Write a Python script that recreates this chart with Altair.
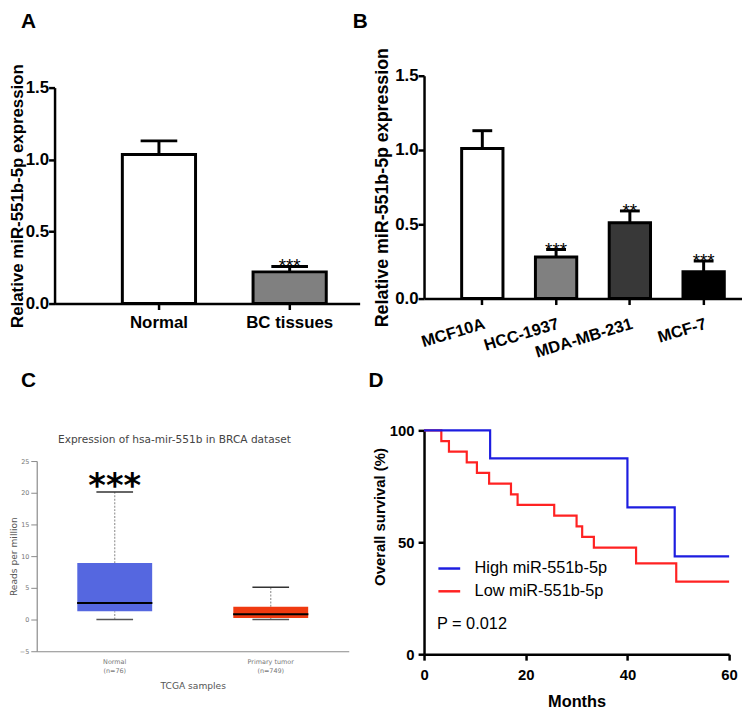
import altair as alt
import pandas as pd

FONT = "Liberation Sans"
CFONT = "DejaVu Sans"

# ---------------- Panel A ----------------
a_groups = ["Normal", "BC tissues"]
a_means = [1.035, 0.22]
a_sd = [0.095, 0.037]
a_fill = ["#ffffff", "#808080"]
a_sig = ["", "***"]

# ---------------- Panel B ----------------
b_groups = ["MCF10A", "HCC-1937", "MDA-MB-231", "MCF-7"]
b_means = [1.01, 0.28, 0.51, 0.18]
b_sd = [0.12, 0.05, 0.08, 0.073]
b_fill = ["#ffffff", "#808080", "#383838", "#000000"]
b_sig = ["", "***", "**", "***"]

# ---------------- Panel C ----------------
c_title = "Expression of hsa-mir-551b in BRCA dataset"
c_groups = ["Normal", "Primary tumor"]
c_n = ["(n=76)", "(n=749)"]
c_min = [0.0, 0.0]
c_q1 = [1.3, 0.25]
c_median = [2.6, 0.85]
c_q3 = [8.9, 2.0]
c_max = [20.1, 5.1]
c_fill = ["#5567e0", "#f03a10"]
c_sig = ["***", ""]
c_ticks = [-5, 0, 5, 10, 15, 20, 25]

# ---------------- Panel D ----------------
d_groups = ["High miR-551b-5p", "Low miR-551b-5p"]
d_colors = ["#1d1de0", "#ff2222"]
d_high_t = [0, 13, 40, 49.3, 60]
d_high_s = [100, 87.5, 65.6, 43.7, 43.7]
d_low_t = [0, 3.4, 4.9, 8.4, 10.4, 12.8, 17.1, 18.4, 25.6, 30.0, 31.1, 33.4, 41.7, 49.6, 60]
d_low_s = [100, 95.2, 90.5, 85.7, 81.0, 76.2, 71.4, 66.7, 61.9, 57.1, 52.4, 47.6, 40.6, 32.4, 32.4]
d_pvalue = "P = 0.012"

panel_letters = ["A", "B", "C", "D"]


def letter_layer(t, x, y):
    return alt.Chart(pd.DataFrame({"t": [t]})).mark_text(
        font=FONT, fontSize=21, fontWeight="bold", color="black", align="left",
        baseline="alphabetic").encode(x=alt.value(x), y=alt.value(y), text="t:N")


def bar_axis_y(title, offset, title_size, title_pad):
    return alt.Axis(values=[0, 0.5, 1.0, 1.5], format=".1f", title=title, offset=offset,
                    grid=False, domainColor="black", domainWidth=2.5, tickColor="black",
                    tickWidth=2.5, tickSize=6, labelFont=FONT, labelFontSize=17,
                    labelFontWeight="bold", labelColor="black", labelPadding=0,
                    labelOverlap=False, titleFont=FONT, titleFontSize=title_size,
                    titleFontWeight="bold", titleColor="black", titlePadding=title_pad)


# ---------- A ----------
dfA = pd.DataFrame({"group": a_groups, "mean": a_means, "sd": a_sd, "col": a_fill, "sig": a_sig})
xA = alt.X("group:N", sort=a_groups,
           scale=alt.Scale(domain=a_groups, range=[18, 326], paddingInner=0.44,
                           paddingOuter=0.387, align=0.67),
           axis=alt.Axis(title=None, labelAngle=0, labelFont=FONT, labelFontSize=17,
                         labelFontWeight="bold", labelColor="black", labelPadding=5,
                         domainColor="black", domainWidth=2.5, tickColor="black",
                         tickWidth=2.5, tickSize=6))
yA = alt.Y("mean:Q", scale=alt.Scale(domain=[0, 1.5], range=[230, 12], nice=False),
           axis=bar_axis_y("Relative miR-551b-5p expression", -18, 17, -1))
baseA = alt.Chart(dfA).transform_calculate(upper="datum.mean + datum.sd")
A = alt.layer(
    baseA.mark_rule(color="black", strokeWidth=3, opacity=1).encode(x=xA, y=yA, y2="upper:Q"),
    baseA.mark_bar(stroke="black", strokeWidth=3, opacity=1).encode(
        x=xA, y=yA, fill=alt.Fill("col:N", scale=None)),
    baseA.mark_tick(color="black", thickness=3, size=37, opacity=1).encode(
        x=xA, y=alt.Y("upper:Q")),
    baseA.mark_text(font=FONT, fontSize=19, baseline="alphabetic", dy=5, color="black").encode(
        x=xA, y=alt.Y("upper:Q"), text="sig:N"),
    letter_layer(panel_letters[0], -16, -48),
).properties(width=326, height=230)

# ---------- B ----------
dfB = pd.DataFrame({"group": b_groups, "mean": b_means, "sd": b_sd, "col": b_fill, "sig": b_sig})
xB = alt.X("group:N", sort=b_groups,
           scale=alt.Scale(domain=b_groups, paddingInner=0.44, paddingOuter=0.375, align=0.68),
           axis=alt.Axis(title=None, labelAngle=-17, labelAlign="right", labelBaseline="top",
                         labelFont=FONT, labelFontSize=16.5, labelFontWeight="bold",
                         labelColor="black", labelPadding=11, domainColor="black",
                         domainWidth=2.5, tickColor="black", tickWidth=2.5, tickSize=6))
yB = alt.Y("mean:Q", scale=alt.Scale(domain=[0, 1.5], nice=False),
           axis=bar_axis_y("Relative miR-551b-5p expression", 0, 18, 3))
baseB = alt.Chart(dfB).transform_calculate(upper="datum.mean + datum.sd")
B = alt.layer(
    baseB.mark_rule(color="black", strokeWidth=3, opacity=1).encode(x=xB, y=yB, y2="upper:Q"),
    baseB.mark_bar(stroke="black", strokeWidth=3, opacity=1).encode(
        x=xB, y=yB, fill=alt.Fill("col:N", scale=None)),
    baseB.mark_tick(color="black", thickness=3, size=20, opacity=1).encode(
        x=xB, y=alt.Y("upper:Q")),
    baseB.mark_text(font=FONT, fontSize=19, baseline="alphabetic", dy=6, color="black").encode(
        x=xB, y=alt.Y("upper:Q"), text="sig:N"),
    letter_layer(panel_letters[1], -72, -48),
).properties(width=321, height=225)

# ---------- C ----------
dfC = pd.DataFrame({"group": c_groups, "n": c_n, "min": c_min, "q1": c_q1, "median": c_median,
                    "q3": c_q3, "max": c_max, "col": c_fill, "sig": c_sig})
label_expr = "datum.label"
for g, n in zip(reversed(c_groups), reversed(c_n)):
    label_expr = f"datum.label == '{g}' ? ['{g}', '{n}'] : ({label_expr})"
xC = alt.X("group:N", sort=c_groups,
           scale=alt.Scale(domain=c_groups, paddingInner=0.52, paddingOuter=0.26),
           axis=alt.Axis(title="TCGA samples", labelExpr=label_expr, ticks=False, tickSize=0,
                         labelAngle=0, domainColor="#8a8a8a", domainWidth=1.2, labelFont=CFONT,
                         labelFontSize=6.5, labelColor="#777777", labelPadding=7,
                         labelLineHeight=9, titleFont=CFONT, titleFontSize=9.2,
                         titleFontWeight="normal", titleColor="#555555", titlePadding=8))
yC_scale = alt.Scale(domain=[-5, 25], range=[223, 31], nice=False, zero=False)
yC_axis = alt.Axis(values=c_ticks, title="Reads per million", grid=False,
                   domainColor="#8a8a8a", domainWidth=1.2, tickColor="#8a8a8a",
                   tickWidth=1, tickSize=6, labelFont=CFONT, labelFontSize=6.5,
                   labelColor="#777777", labelPadding=2, labelOverlap=False,
                   titleFont=CFONT, titleFontSize=9.2, titleFontWeight="normal",
                   titleColor="#555555", titlePadding=1)
baseC = alt.Chart(dfC)
C = alt.layer(
    baseC.mark_rule(color="#999999", strokeWidth=1.2, strokeDash=[2, 1.5]).encode(
        x=xC, y=alt.Y("q3:Q", scale=yC_scale, axis=yC_axis), y2="max:Q"),
    baseC.mark_rule(color="#999999", strokeWidth=1.2, strokeDash=[2, 1.5]).encode(
        x=xC, y=alt.Y("min:Q", scale=yC_scale, axis=yC_axis), y2="q1:Q"),
    baseC.mark_bar(opacity=1).encode(
        x=xC, y=alt.Y("q1:Q", scale=yC_scale, axis=yC_axis), y2="q3:Q",
        fill=alt.Fill("col:N", scale=None)),
    baseC.mark_tick(color="black", thickness=2, size=76, opacity=1).encode(
        x=xC, y=alt.Y("median:Q", scale=yC_scale, axis=yC_axis)),
    baseC.mark_tick(color="#333333", thickness=1.5, size=37, opacity=1).encode(
        x=xC, y=alt.Y("max:Q", scale=yC_scale, axis=yC_axis)),
    baseC.mark_tick(color="#555555", thickness=1.5, size=37, opacity=1).encode(
        x=xC, y=alt.Y("min:Q", scale=yC_scale, axis=yC_axis)),
    baseC.mark_text(font=CFONT, fontSize=34, fontWeight="bold", baseline="alphabetic", dy=5,
                    color="black").encode(
        x=xC, y=alt.Y("max:Q", scale=yC_scale, axis=yC_axis), text="sig:N"),
    alt.Chart(pd.DataFrame({"t": [c_title]})).mark_text(
        font=CFONT, fontSize=10.7, color="#444444", align="center", baseline="alphabetic").encode(
        x=alt.value(139), y=alt.value(13), text="t:N"),
    letter_layer(panel_letters[2], -16, -44),
).properties(width=315, height=223)

# ---------- D ----------
dfD_high = pd.DataFrame({"t": d_high_t, "s": d_high_s, "group": d_groups[0]})
dfD_low = pd.DataFrame({"t": d_low_t, "s": d_low_s, "group": d_groups[1]})
xD = alt.X("t:Q", scale=alt.Scale(domain=[0, 60], nice=False),
           axis=alt.Axis(values=[0, 20, 40, 60], title="Months", grid=False, labelFlush=False,
                         labelOverlap=False, domainColor="black", domainWidth=2.5,
                         tickColor="black", tickWidth=2.5, tickSize=6, labelFont=FONT,
                         labelFontSize=15, labelFontWeight="bold", labelColor="black",
                         labelPadding=8, titleFont=FONT, titleFontSize=16.5,
                         titleFontWeight="bold", titleColor="black", titlePadding=11))
yD = alt.Y("s:Q", scale=alt.Scale(domain=[0, 100], nice=False),
           axis=alt.Axis(values=[0, 50, 100], title="Overall survival (%)", grid=False,
                         labelOverlap=False, domainColor="black", domainWidth=2.5,
                         tickColor="black", tickWidth=2.5, tickSize=6, labelFont=FONT,
                         labelFontSize=15, labelFontWeight="bold", labelColor="black",
                         labelPadding=4, titleFont=FONT, titleFontSize=15,
                         titleFontWeight="bold", titleColor="black", titleX=-37, titleY=87))
colD = alt.Color("group:N", scale=alt.Scale(domain=d_groups, range=d_colors),
                 legend=alt.Legend(orient="none", legendX=13, legendY=127, title=d_pvalue,
                                   titleOrient="bottom", titleAnchor="start", titleFont=FONT,
                                   titleFontSize=16.5, titleFontWeight="normal",
                                   titleColor="black", titlePadding=17, labelFont=FONT,
                                   labelFontSize=16.5, labelColor="black", labelOffset=13,
                                   symbolType="stroke", symbolSize=484, symbolStrokeWidth=2.5,
                                   rowPadding=2, padding=0))
D = alt.layer(
    alt.Chart(dfD_low).mark_line(interpolate="step-after", strokeWidth=2.2).encode(x=xD, y=yD, color=colD),
    alt.Chart(dfD_high).mark_line(interpolate="step-after", strokeWidth=2.2).encode(x=xD, y=yD, color=colD),
    letter_layer(panel_letters[3], -56, -44),
).properties(width=308, height=226)

chart = alt.concat(
    A, B, C, D, columns=2, spacing={"row": 128, "column": 65}, bounds="flush", align="each"
).resolve_scale(color="independent").resolve_legend(color="independent").properties(
    padding=0, background="white").configure_view(stroke=None)

chart.save("out.html", embed_options={"renderer": "svg", "actions": False})
